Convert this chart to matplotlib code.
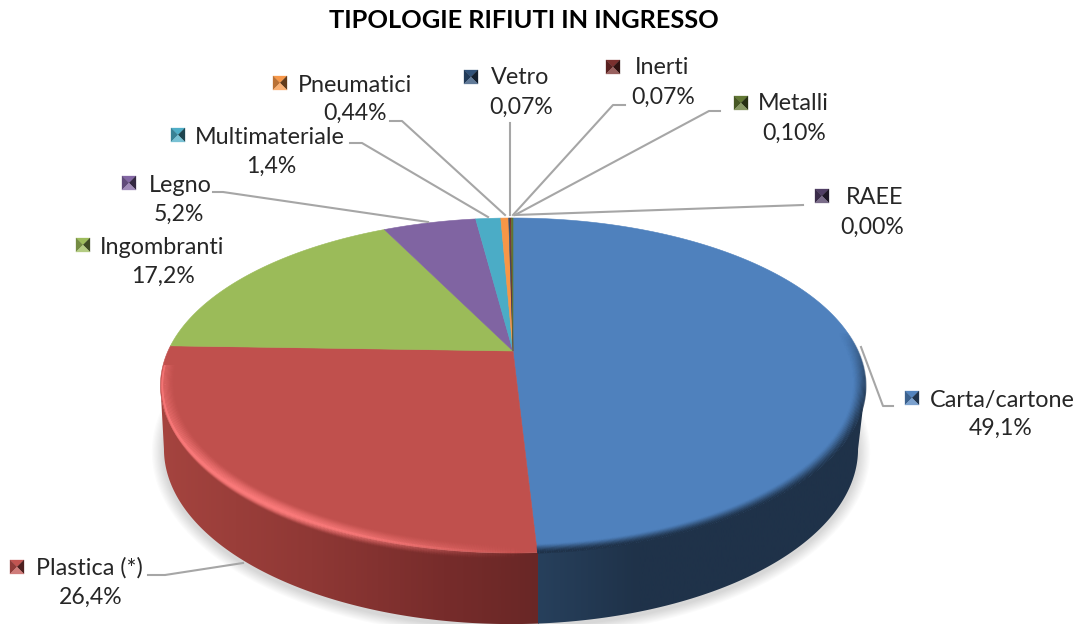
import numpy as np
import matplotlib
matplotlib.use("Agg")
import matplotlib.pyplot as plt
from matplotlib.collections import LineCollection
from matplotlib.colors import LinearSegmentedColormap, to_rgb
from matplotlib.patches import Polygon

#  DATA
categories = ["Carta/cartone", "Plastica (*)", "Ingombranti", "Legno", "Multimateriale",
              "Pneumatici", "Vetro", "Inerti", "Metalli", "RAEE"]
values     = [49.1, 26.4, 17.2, 5.2, 1.4, 0.44, 0.07, 0.07, 0.10, 0.00]
pct_labels = ["49,1%", "26,4%", "17,2%", "5,2%", "1,4%",
              "0,44%", "0,07%", "0,07%", "0,10%", "0,00%"]
colors     = ["#4F81BD", "#C0504D", "#9BBB59", "#8064A2", "#4BACC6",
              "#F79646", "#2C4D75", "#772C2A", "#5F7530", "#4D3B62"]

#  LAYOUT (pixels)
W, H = 1074, 624
TOP  = dict(x0=513, y0=351, a=345, b=160.4, d=0.206)
BOT  = dict(x0=511, y0=413, a=339.6, b=167.6, d=0.206)

# marker x, marker y, text left, name y, pct centre x, pct y
label_pos = [(912, 398, 930, 400, 1001, 428),
             (17, 567, 36, 568, 91, 597),
             (83, 245, 100, 247, 163, 276),
             (129, 183, 149, 185, 179, 214),
             (178, 135, 195, 137, 271, 166),
             (280, 83, 298, 85, 355, 113),
             (471, 77, 491, 78, 521, 107),
             (613, 67, 635, 68, 663, 97),
             (741, 103, 758, 104, 794, 133),
             (822, 196, 846, 197, 872, 227)]
leaders = [[(861, 347), (883, 406), (893, 406)],
           [(243, 563), (165, 575), (148, 575)],
           None,
           [(428, 222), (223, 192), (213, 192)],
           [(488, 217), (362, 143), (350, 143)],
           [(505, 215), (402, 121), (390, 121)],
           [(510, 215), (510, 123)],
           [(513, 215), (613, 105), (625, 105)],
           [(515, 215), (709, 111), (720, 111)],
           [(515, 215), (803, 205)]]

FONT = "Lato"
GREY = "#A6A6A6"
TXT  = "#262626"


def project(theta, p, r=1.0):
    # clockwise angle from the back of the pie, with some perspective
    X, Y = r * np.sin(theta), r * np.cos(theta)
    s = 1 / (1 + p["d"] * Y)
    return p["x0"] + p["a"] * X * s, p["y0"] - p["b"] * Y * s


def mix(c1, c2, t):
    c1, c2 = np.array(to_rgb(c1)), np.array(to_rgb(c2))
    return tuple(c1 + (c2 - c1) * t)


fig = plt.figure(figsize=(W / 100, H / 100), dpi=100)
ax = fig.add_axes([0, 0, 1, 1])
ax.axis("off")

edges = np.radians(np.concatenate([[0], np.cumsum(values)]) / sum(values) * 360)
blue_end, red_end = edges[1], edges[2]
t_ext = np.arccos(-TOP["d"])   # where the ellipses are widest

# soft shadow under the pie
th = np.linspace(0, 2 * np.pi, 300)
xs, ys = project(th, BOT)
cx, cy = BOT["x0"], 449
for k in range(10, 0, -1):
    ax.add_patch(Polygon(np.c_[cx + (xs - cx) * (1 + k * 0.0035), cy + 3 + (ys - cy) * (1 + k * 0.006)],
                         fc="black", ec="none", alpha=0.016, zorder=1))


def side(t0, t1, stops, xr):
    t = np.linspace(t0, t1, 200)
    xt, yt = project(t, TOP)
    xb, yb = project(t, BOT)
    pts = np.c_[np.r_[xt, xb[::-1]], np.r_[yt, yb[::-1]]]
    clip = Polygon(pts, fc="none", ec="none", transform=ax.transData)
    ax.add_patch(clip)
    cmap = LinearSegmentedColormap.from_list("s", stops)
    im = ax.imshow(np.linspace(0, 1, 256)[None, :], cmap=cmap, aspect="auto",
                   extent=(xr[0], xr[1], H, 0), zorder=2)
    im.set_clip_path(clip)


side(blue_end - 0.01, 2 * np.pi - t_ext,
     [(0, "#A5443F"), (0.4, "#8F3835"), (0.75, "#772C2B"), (1, "#692726")], (160, 539))
side(t_ext, blue_end, [(0, "#27405C"), (0.3, "#1F3249"), (1, "#1F3249")], (538, 870))

# top face
for i in range(len(values)):
    if values[i] == 0:
        continue
    t = np.linspace(edges[i], edges[i + 1], max(3, int(values[i] * 8)))
    xs, ys = project(t, TOP)
    pts = np.c_[np.r_[TOP["x0"], xs], np.r_[TOP["y0"], ys]]
    ax.add_patch(Polygon(pts, fc=colors[i], ec=colors[i], lw=0.4, zorder=3))


def rim_lines(t, pts, cols, z=4):
    segs = np.stack([pts[:-1], pts[1:]], axis=1)
    ax.add_collection(LineCollection(segs, colors=cols, linewidths=1.3, zorder=z))


# blue rim: blurred dark fade
t = np.linspace(1.45, blue_end, 300)
tm = (t[:-1] + t[1:]) / 2
for r in np.linspace(0.965, 1.0, 12):
    w = (r - 0.965) / 0.035
    fade = np.clip((tm - 1.45) / 0.5, 0, 1)
    cols = [(*to_rgb("#1F3249"), (w ** 1.6) * f) for f in fade]
    rim_lines(t, np.c_[project(t, TOP, r)], cols)

# red rim: highlight that fades away towards the blue slice
t = np.linspace(blue_end, 2 * np.pi - t_ext + 0.12, 400)
tm = (t[:-1] + t[1:]) / 2
u = (tm - blue_end) / (t[-1] - blue_end)
amt = np.clip(u / 0.42, 0, 1) ** 1.3 * (1 - 0.65 * np.clip((u - 0.55) / 0.45, 0, 1))
for r in np.linspace(0.96, 0.995, 12):
    w = (r - 0.96) / 0.035
    cols = [(*to_rgb("#FA7A7A"), (w ** 1.4) * a) for a in amt]
    rim_lines(t, np.c_[project(t, TOP, r)], cols)
xr, yr = project(t, TOP, 0.995)
for dy in np.linspace(0, 8, 12):
    w = 1 - dy / 8
    yy = yr + dy * np.clip(-np.cos(t) * 1.1, 0, 1)
    keep = (-np.cos((t[:-1] + t[1:]) / 2)) > -0.3
    cols = [(*to_rgb("#FA7A7A"), (w ** 1.4) * a * k) for a, k in zip(amt, keep)]
    rim_lines(t, np.c_[xr, yy], cols)

# leader lines
for pts in leaders:
    if pts is None:
        continue
    p = np.array(pts)
    ax.plot(p[:, 0], p[:, 1], color=GREY, lw=1.5, solid_joinstyle="round", zorder=5)


def marker(x, y, c, s=7):
    cc = (x, y)
    tl, tr, br, bl = (x - s, y - s), (x + s, y - s), (x + s, y + s), (x - s, y + s)
    faces = [((tl, tr, cc), mix(c, "#FFFFFF", 0.02)),
             ((tl, bl, cc), mix(c, "#000000", 0.25)),
             ((tr, br, cc), mix(c, "#000000", 0.6)),
             ((bl, br, cc), mix(c, "#FFFFFF", 0.25))]
    for tri, col in faces:
        ax.add_patch(Polygon(tri, fc=col, ec=col, lw=0.2, zorder=6))


# labels
for name, pct, c, (mx, my, tx, ty, px, py) in zip(categories, pct_labels, colors, label_pos):
    marker(mx, my, c)
    ax.text(tx, ty, name, family=FONT, fontsize=16.8, color=TXT, ha="left", va="center", zorder=7)
    ax.text(px, py, pct, family=FONT, fontsize=16.6, color=TXT, ha="center", va="center", zorder=7)

ax.text(524, 20, "TIPOLOGIE RIFIUTI IN INGRESSO", family=FONT, fontsize=18.3, fontweight="bold",
        color="black", ha="center", va="center")

ax.set_xlim(0, W)
ax.set_ylim(H, 0)
fig.savefig("out.png", dpi=100, facecolor="white")
